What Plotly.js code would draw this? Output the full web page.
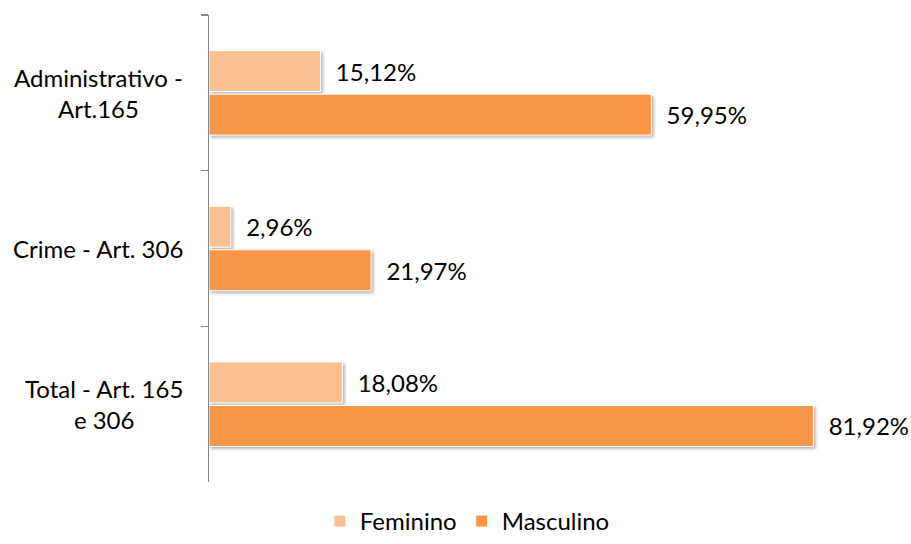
<!DOCTYPE html>
<html>
<head>
<meta charset="utf-8">
<script src="https://cdn.plot.ly/plotly-3.0.1.min.js"></script>
<style>
html,body{margin:0;padding:0;background:#fff;}
#chart{width:911px;height:544px;}
.bars .point path{filter:drop-shadow(2px 2px 1.5px rgba(0,0,0,0.28));}
</style>
</head>
<body>
<div id="chart"></div>
<script>
const categories = ["Administrativo -<br>Art.165", "Crime - Art. 306", "Total - Art. 165<br>e 306"];
const categoryKeys = ["Administrativo - Art.165", "Crime - Art. 306", "Total - Art. 165 e 306"];
const feminino = [15.12, 2.96, 18.08];
const masculino = [59.95, 21.97, 81.92];
const seriesNames = ["Feminino", "Masculino"];
const colors = ["#FAC090", "#F79646"];

const FONT = "Lato, 'Open Sans', sans-serif";
const labelTpl = "\u00a0\u00a0%{x:.2f}%";

const traces = [feminino, masculino].map((vals, i) => ({
  type: "bar",
  orientation: "h",
  name: seriesNames[i],
  y: categoryKeys,
  x: vals,
  marker: {color: colors[i], line: {color: "#ffffff", width: 1}},
  texttemplate: labelTpl,
  textposition: "outside",
  cliponaxis: false,
  textfont: {family: FONT, size: 24, color: "#000"},
  hoverinfo: "skip"
}));

const annotations = categoryKeys.map((k, i) => ({
  xref: "paper", yref: "y",
  x: -0.036, y: k,
  xanchor: "right", yanchor: "middle",
  align: "center",
  text: categories[i],
  showarrow: false,
  font: {family: FONT, size: 24, color: "#000"}
}));

const layout = {
  width: 911, height: 544,
  margin: {l: 209, r: 38, t: 15, b: 62, autoexpand: false},
  paper_bgcolor: "#fff", plot_bgcolor: "#fff",
  separators: ",.",
  barmode: "group",
  bargap: 0.44,
  bargroupgap: 0.06,
  font: {family: FONT, size: 24, color: "#000"},
  xaxis: {visible: false, range: [0, 90], fixedrange: true},
  yaxis: {
    type: "category",
    categoryorder: "array", categoryarray: categoryKeys,
    autorange: "reversed",
    showticklabels: false,
    showgrid: false, zeroline: false,
    showline: true, linecolor: "#868686", linewidth: 1.3,
    ticks: "outside", tickson: "boundaries", ticklen: 7, tickcolor: "#868686", tickwidth: 1.3
  },
  showlegend: true,
  legend: {
    orientation: "h", x: 0.513, xanchor: "center", xref: "container",
    y: 0.0, yanchor: "bottom", yref: "container",
    font: {family: FONT, size: 24, color: "#000"},
    traceorder: "normal",
    itemwidth: 30
  },
  annotations: annotations
};

Plotly.newPlot("chart", traces, layout, {displayModeBar: false, staticPlot: true});
</script>
</body>
</html>
